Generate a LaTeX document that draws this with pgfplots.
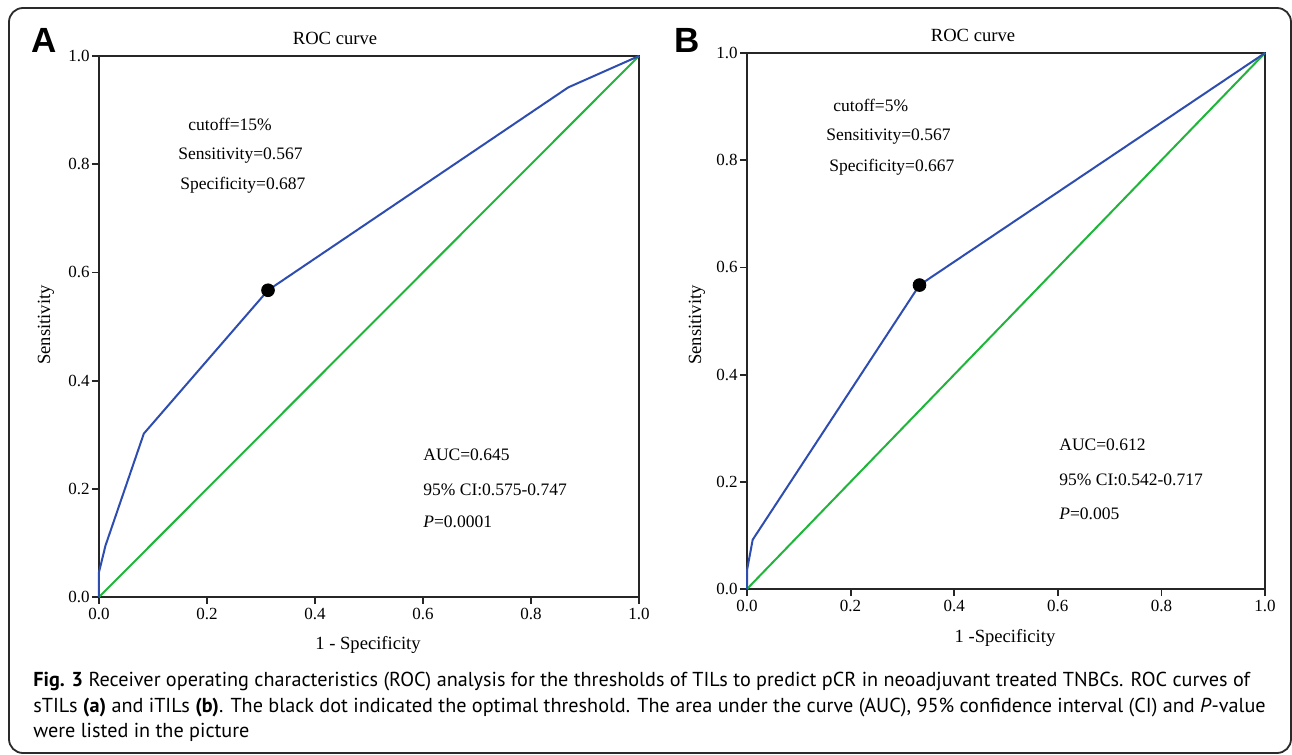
\documentclass[border=0pt]{standalone}
\usepackage{pgfplots}
\pgfplotsset{compat=1.18}
\usepackage{fontspec}
\setmainfont{Liberation Serif}
\newfontfamily\capfont{PT Sans}
\newfontfamily\letterfont{Liberation Sans}
\definecolor{rocblue}{HTML}{2E4DB0}
\definecolor{rocgreen}{HTML}{1FB53A}
\definecolor{framegray}{HTML}{2A2A2A}
\newcommand\chartfont{\fontsize{8.75}{10}\selectfont}
\newcommand\labfont{\fontsize{9.3}{11}\selectfont}
\newcommand\capsize{\capfont\fontsize{10.1}{12}\selectfont}
\pgfplotsset{
  roc/.style={
    scale only axis,
    xmin=0, xmax=1, ymin=0, ymax=1,
    xtick={0,0.2,0.4,0.6,0.8,1},
    ytick={0,0.2,0.4,0.6,0.8,1},
    tick align=outside,
    tick pos=left,
    major tick length=3.5pt,
    axis line style={line width=0.9pt, black!85},
    every tick/.style={line width=0.9pt, black!85},
    tick label style={font=\fontsize{8.5}{10}\selectfont},
    xticklabel style={inner sep=1pt, yshift=-1pt},
    yticklabel style={inner sep=1pt},
    /pgf/number format/fixed,
    /pgf/number format/fixed zerofill,
    /pgf/number format/precision=1,
    /pgf/number format/assume math mode=true,
    clip=false,
  }
}
\begin{document}
\begin{tikzpicture}[x=0.5pt, y=-0.5pt]
\useasboundingbox (0,0) rectangle (1292,755);
\draw[framegray, line width=0.9pt, rounded corners=7pt] (9,8) rectangle (1291,753);

% Panel A
\begin{axis}[roc, at={(49.5pt,-298.5pt)}, anchor=south west, width=270pt, height=270.5pt]
\addplot[rocgreen, line width=1pt] coordinates {(0,0) (1,1)};
\addplot[rocblue, line width=1pt] coordinates {
(0,0) (0,0.046) (0.012,0.095) (0.083,0.302) (0.313,0.567) (0.869,0.942) (1,1)};
\addplot[only marks, mark=*, mark size=3.2pt, black] coordinates {(0.313,0.567)};
\end{axis}

% Panel B
\begin{axis}[roc, at={(373.5pt,-294.5pt)}, anchor=south west, width=259pt, height=268pt]
\addplot[rocgreen, line width=1pt] coordinates {(0,0) (1,1)};
\addplot[rocblue, line width=1pt] coordinates {
(0,0) (0,0.035) (0.011,0.092) (0.333,0.567) (1,1)};
\addplot[only marks, mark=*, mark size=3.2pt, black] coordinates {(0.333,0.567)};
\end{axis}

% panel letters
\node[font=\letterfont\bfseries\fontsize{17.5}{20}\selectfont] at (44,40) {A};
\node[font=\letterfont\bfseries\fontsize{17.5}{20}\selectfont] at (687,40) {B};

% titles and axis labels
\begin{scope}[every node/.style={font=\labfont, inner sep=0pt}]
\node at (335,38) {ROC curve};
\node at (973,35) {ROC curve};
\node[rotate=90] at (46,325) {Sensitivity};
\node[rotate=90] at (697,325) {Sensitivity};
\node at (368,645) {1 - Specificity};
\node at (1005,638) {1 -Specificity};
\end{scope}

\begin{scope}[every node/.style={font=\chartfont, inner sep=0pt}]
\node[anchor=west] at (188,124) {cutoff=15\%};
\node[anchor=west] at (178,156) {Sensitivity=0.567};
\node[anchor=west] at (180,185) {Specificity=0.687};
\node[anchor=west] at (423,455) {AUC=0.645};
\node[anchor=west] at (423,490) {95\% CI:0.575-0.747};
\node[anchor=west] at (423,522) {\textit{P}=0.0001};

\node[anchor=west] at (833,105) {cutoff=5\%};
\node[anchor=west] at (826,137) {Sensitivity=0.567};
\node[anchor=west] at (829,167) {Specificity=0.667};
\node[anchor=west] at (1059,445) {AUC=0.612};
\node[anchor=west] at (1059,480) {95\% CI:0.542-0.717};
\node[anchor=west] at (1059,514) {\textit{P}=0.005};
\end{scope}

% caption
\begin{scope}[every node/.style={font=\capsize, inner sep=0pt, anchor=base west}]
\node at (33,686) {\textbf{Fig. 3} Receiver operating characteristics (ROC) analysis for the thresholds of TILs to predict pCR in neoadjuvant treated TNBCs. ROC curves of};
\node at (33,712) {sTILs \textbf{(a)} and iTILs \textbf{(b)}. The black dot indicated the optimal threshold. The area under the curve (AUC), 95\% confidence interval (CI) and \textit{P}-value};
\node at (33,737) {were listed in the picture};
\end{scope}
\end{tikzpicture}
\end{document}
